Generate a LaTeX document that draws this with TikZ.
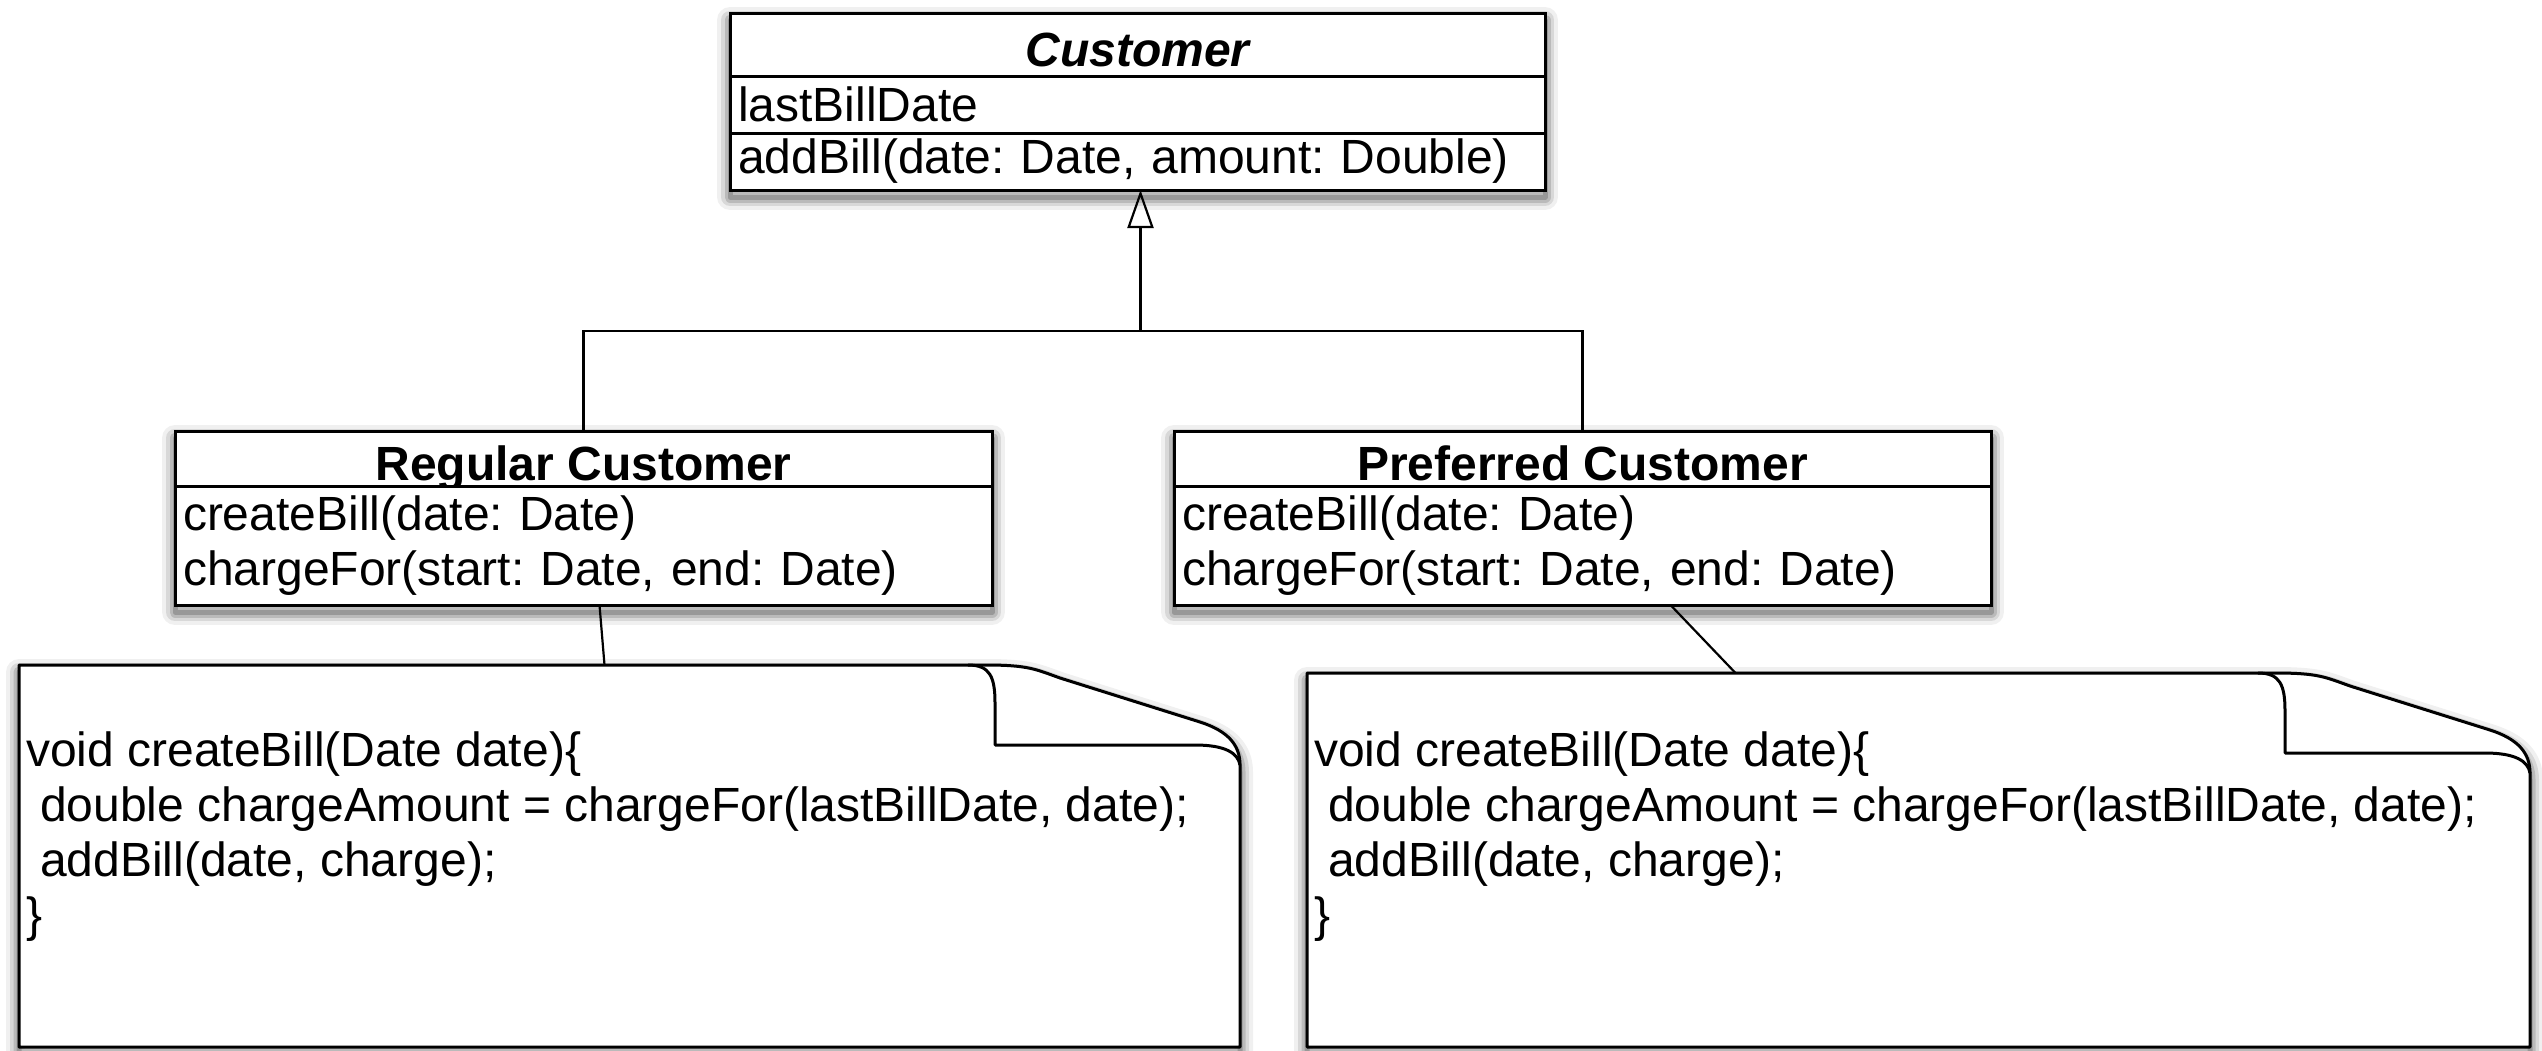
\documentclass[tikz,border=0pt]{standalone}
\usepackage{fontspec}
\setmainfont{Liberation Sans}
\frenchspacing
\usetikzlibrary{positioning,arrows.meta,fit,backgrounds}

\newcommand{\umlfont}{\fontsize{48}{55}\selectfont}

\tikzset{
  classname/.style={draw, fill=white, line width=3pt, outer sep=0pt, inner sep=0pt,
    minimum width=#1, text height=44pt, text depth=0pt, font=\umlfont\bfseries},
  classpart/.style={draw, fill=white, line width=3pt, outer sep=0pt, inner xsep=8pt,
    inner ysep=0pt, text width=#1, align=left, font=\umlfont},
  softshadow/.style={
    preaction={draw=black, line width=26pt, line join=round, opacity=0.06,
      transform canvas={yshift=-7pt}},
    preaction={draw=black, line width=18pt, line join=round, opacity=0.10,
      transform canvas={yshift=-7pt}},
    preaction={draw=black, line width=11pt, line join=round, opacity=0.14,
      transform canvas={yshift=-7pt}},
    preaction={draw=black, line width=5pt, line join=round, opacity=0.18,
      transform canvas={yshift=-7pt}}},
  classshadow/.style={fill=white, inner sep=0pt, outer sep=0pt, softshadow},
  notebox/.style={inner sep=0pt, outer sep=0pt, minimum width=#1},
  noteline/.style={draw, line width=3pt, line join=round},
  codetext/.style={inner sep=0pt, align=left, font=\umlfont},
  link/.style={draw, line width=2.2pt},
}

% note with a folded top right corner
\newcommand{\foldednote}[1]{%
  \begin{scope}[shift={(#1.north east)}]
    \draw[noteline, fill=white, softshadow] (#1.north west) -- (-255,0)
      .. controls (-212,0) and (-205,4) .. (-180,13) -- (-40,57)
      .. controls (-12,66) and (0,80) .. (0,100) -- (#1.south east)
      -- (#1.south west) -- cycle;
    \draw[noteline] (-272,0) .. controls (-250,0) and (-245,12) .. (-245,38)
      -- (-245,80) -- (-45,80) .. controls (-15,80) and (-2,88) .. (0,100);
  \end{scope}}

\begin{document}
\begin{tikzpicture}[x=1pt, y=-1pt]
\useasboundingbox (0,0) rectangle (2542,1050);

% classes
\node[classname=815pt, minimum height=63pt, font=\umlfont\bfseries\itshape, anchor=north west] (custname) at (730,13) {Customer};
\node[classpart=799pt, minimum height=57pt, below=0pt of custname] (custattr) {lastBillDate};
\node[classpart=799pt, minimum height=57pt, below=0pt of custattr] (custops) {addBill(date: Date, amount: Double)};

\node[classname=817pt, minimum height=55pt, anchor=north west] (regname) at (175,431) {Regular Customer};
\node[classpart=801pt, minimum height=119pt, below=0pt of regname] (regops) {createBill(date: Date)\\chargeFor(start: Date, end: Date)};

\node[classname=817pt, minimum height=55pt, right=182pt of regname] (prefname) {Preferred Customer};
\node[classpart=801pt, minimum height=119pt, below=0pt of prefname] (prefops) {createBill(date: Date)\\chargeFor(start: Date, end: Date)};

\begin{scope}[on background layer]
  \node[classshadow, fit=(custname)(custops)] {};
  \node[classshadow, fit=(regname)(regops)] {};
  \node[classshadow, fit=(prefname)(prefops)] {};
\end{scope}

% notes
\node[notebox=1221pt, minimum height=382pt, anchor=north west] (regnote) at (19,665) {};
\node[notebox=1223pt, minimum height=374pt, anchor=north west] (prefnote) at (1307,673) {};
\foldednote{regnote}
\foldednote{prefnote}

\node[codetext, below right=67pt and 7pt of regnote.north west] (regcode) {void createBill(Date date)\{\\\hspace*{14pt}double chargeAmount = chargeFor(lastBillDate, date);\\\hspace*{14pt}addBill(date, charge);\\\}};
\node[codetext, below right=59pt and 7pt of prefnote.north west] (prefcode) {void createBill(Date date)\{\\\hspace*{14pt}double chargeAmount = chargeFor(lastBillDate, date);\\\hspace*{14pt}addBill(date, charge);\\\}};

% generalization
\coordinate (fork) at ([xshift=3pt, yshift=-141pt]custops.south);
\draw[link] (regname.north) |- (fork) -| (prefname.north);
\draw[link, -{Triangle[open, length=38pt, width=26pt, line width=2.2pt]}] (fork) -- ([xshift=3pt]custops.south);

% note links
\draw[link] ([xshift=16pt]regops.south) -- ([xshift=-25pt]regnote.north);
\draw[link] ([xshift=88pt]prefops.south) -- ([xshift=-183pt]prefnote.north);
\end{tikzpicture}
\end{document}
